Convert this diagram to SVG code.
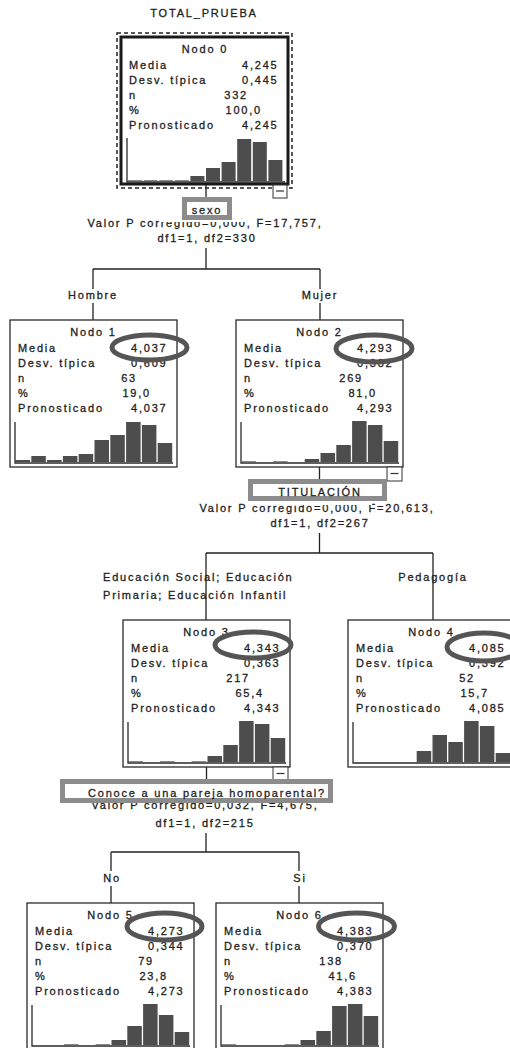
<svg xmlns="http://www.w3.org/2000/svg" width="510" height="1048" viewBox="0 0 510 1048">
<style>
.t{font-family:"Liberation Sans",Arial,sans-serif;font-size:11px;letter-spacing:1.8px;fill:#1e1e1e;stroke:#1e1e1e;stroke-width:0.3}
.m{text-anchor:middle}.e{text-anchor:end}
.box{fill:#fff;stroke:#2a2a2a;stroke-width:1.3}
.ax{fill:none;stroke:#2a2a2a;stroke-width:1.3}
.bar{fill:#4d4d4d}
.tiny{fill:#8a8a8a}
.hl{fill:#fff;stroke:#8c8c8c;stroke-width:5}
.ov{fill:none;stroke:#555;stroke-width:5}
.conn{fill:none;stroke:#222;stroke-width:1.3}
.mb{fill:#fff;stroke:#333;stroke-width:1}
</style>
<rect width="510" height="1048" fill="#fff"/>
<text class="t m" x="204" y="17">TOTAL_PRUEBA</text>

<g id="connectors">
<path class="conn" d="M206 185V200M206 248V269M93 269H320M93 269V289M93 303V320M320 269V289M320 303V320"/>
<path class="conn" d="M319.5 467V482M319.5 533V553M206 553H433M206 553V620M433 553V620"/>
<path class="conn" d="M206.5 767V782M206 833V852M111 852H299M111 852V871M111 886V903M299 852V871M299 886V903"/>
</g>

<g id="node0">
<rect x="117" y="33" width="175" height="155" fill="none" stroke="#222" stroke-width="1.5" stroke-dasharray="4 3"/>
<rect x="121" y="37" width="167" height="147" fill="#fff" stroke="#1a1a1a" stroke-width="3"/>
<text class="t m" x="205" y="53">Nodo 0</text>
<text class="t" x="129" y="69">Media</text><text class="t e" x="278.5" y="69">4,245</text>
<text class="t" x="129" y="84">Desv. típica</text><text class="t e" x="278.5" y="84">0,445</text>
<text class="t" x="129" y="99">n</text><text class="t e" x="248" y="99">332</text>
<text class="t" x="129" y="114">%</text><text class="t e" x="262" y="114">100,0</text>
<text class="t" x="129" y="129">Pronosticado</text><text class="t e" x="278.5" y="129">4,245</text>
<rect class="tiny" x="128" y="180" width="14" height="1"/>
<rect class="tiny" x="143.6" y="180" width="14" height="1"/>
<rect class="tiny" x="159.2" y="180" width="14" height="1"/>
<rect class="tiny" x="174.8" y="180" width="14" height="1"/>
<rect class="bar" x="190.4" y="176" width="14" height="5"/>
<rect class="bar" x="206" y="168" width="14" height="13"/>
<rect class="bar" x="221.6" y="162" width="14" height="19"/>
<rect class="bar" x="237.2" y="139" width="14" height="42"/>
<rect class="bar" x="252.8" y="142" width="14" height="39"/>
<rect class="bar" x="268.4" y="160" width="14" height="21"/>
<path class="ax" d="M127 138V182H285"/>
<rect class="mb" x="273" y="185" width="14" height="13"/><path d="M276 191H284" stroke="#333" stroke-width="1.2"/>
</g>

<g id="node1">
<rect class="box" x="10" y="320" width="167" height="147"/>
<text class="t m" x="93.5" y="336">Nodo 1</text>
<text class="t" x="18" y="352">Media</text><text class="t e" x="167.5" y="352">4,037</text>
<text class="t" x="18" y="367">Desv. típica</text><text class="t e" x="167.5" y="367">0,609</text>
<text class="t" x="18" y="382">n</text><text class="t e" x="137" y="382">63</text>
<text class="t" x="18" y="397">%</text><text class="t e" x="151" y="397">19,0</text>
<text class="t" x="18" y="412">Pronosticado</text><text class="t e" x="167.5" y="412">4,037</text>
<rect class="bar" x="15.5" y="460" width="14.5" height="2"/>
<rect class="bar" x="31.3" y="456" width="14.5" height="6"/>
<rect class="bar" x="47.1" y="460" width="14.5" height="2"/>
<rect class="bar" x="62.9" y="456" width="14.5" height="6"/>
<rect class="bar" x="78.7" y="454" width="14.5" height="8"/>
<rect class="bar" x="94.5" y="440" width="14.5" height="22"/>
<rect class="bar" x="110.3" y="435" width="14.5" height="27"/>
<rect class="bar" x="126.1" y="422" width="14.5" height="40"/>
<rect class="bar" x="141.9" y="425" width="14.5" height="37"/>
<rect class="bar" x="157.7" y="443" width="14.5" height="19"/>
<path class="ax" d="M15 422V463H173"/>
</g>

<g id="node2">
<rect class="box" x="236" y="320" width="167" height="147"/>
<text class="t m" x="319.5" y="336">Nodo 2</text>
<text class="t" x="244" y="352">Media</text><text class="t e" x="393.5" y="352">4,293</text>
<text class="t" x="244" y="367">Desv. típica</text><text class="t e" x="393.5" y="367">0,382</text>
<text class="t" x="244" y="382">n</text><text class="t e" x="363" y="382">269</text>
<text class="t" x="244" y="397">%</text><text class="t e" x="377" y="397">81,0</text>
<text class="t" x="244" y="412">Pronosticado</text><text class="t e" x="393.5" y="412">4,293</text>
<rect class="tiny" x="241.5" y="461" width="14.5" height="1"/>
<rect class="tiny" x="273.1" y="461" width="14.5" height="1"/>
<rect class="bar" x="304.7" y="459" width="14.5" height="3"/>
<rect class="bar" x="320.5" y="453" width="14.5" height="9"/>
<rect class="bar" x="336.3" y="445" width="14.5" height="17"/>
<rect class="bar" x="352.1" y="421" width="14.5" height="41"/>
<rect class="bar" x="367.9" y="425" width="14.5" height="37"/>
<rect class="bar" x="383.7" y="441" width="14.5" height="21"/>
<path class="ax" d="M241 422V463H399"/>
<rect class="mb" x="387" y="467" width="15" height="14"/><path d="M390.5 473.5H398.5" stroke="#333" stroke-width="1.2"/>
</g>

<text class="t m" x="205" y="227">Valor P corregido=0,000, F=17,757,</text>
<text class="t m" x="207" y="242">df1=1, df2=330</text>
<text class="t m" x="93" y="299">Hombre</text>
<text class="t m" x="320" y="299">Mujer</text>

<text class="t m" x="317" y="512">Valor P corregido=0,000, F=20,613,</text>
<text class="t m" x="320" y="527">df1=1, df2=267</text>
<text class="t" x="103" y="581">Educación Social; Educación</text>
<text class="t" x="103" y="599">Primaria; Educación Infantil</text>
<text class="t m" x="433" y="581">Pedagogía</text>

<g id="node3">
<rect class="box" x="123" y="620" width="167" height="147"/>
<text class="t m" x="206.5" y="636">Nodo 3</text>
<text class="t" x="131" y="652">Media</text><text class="t e" x="280.5" y="652">4,343</text>
<text class="t" x="131" y="667">Desv. típica</text><text class="t e" x="280.5" y="667">0,363</text>
<text class="t" x="131" y="682">n</text><text class="t e" x="250" y="682">217</text>
<text class="t" x="131" y="697">%</text><text class="t e" x="264" y="697">65,4</text>
<text class="t" x="131" y="712">Pronosticado</text><text class="t e" x="280.5" y="712">4,343</text>
<rect class="tiny" x="128.5" y="761" width="14.5" height="1"/>
<rect class="tiny" x="160.1" y="761" width="14.5" height="1"/>
<rect class="tiny" x="191.7" y="761" width="14.5" height="1"/>
<rect class="bar" x="207.5" y="756" width="14.5" height="6"/>
<rect class="bar" x="223.3" y="745" width="14.5" height="17"/>
<rect class="bar" x="239.1" y="721" width="14.5" height="41"/>
<rect class="bar" x="254.9" y="724" width="14.5" height="38"/>
<rect class="bar" x="270.7" y="738" width="14.5" height="24"/>
<path class="ax" d="M128 722V763H286"/>
<rect class="mb" x="273" y="767" width="15" height="14"/><path d="M276.5 773.5H284.5" stroke="#333" stroke-width="1.2"/>
</g>

<g id="node4">
<rect class="box" x="348" y="620" width="167" height="147"/>
<text class="t m" x="431.5" y="636">Nodo 4</text>
<text class="t" x="356" y="652">Media</text><text class="t e" x="505.5" y="652">4,085</text>
<text class="t" x="356" y="667">Desv. típica</text><text class="t e" x="505.5" y="667">0,392</text>
<text class="t" x="356" y="682">n</text><text class="t e" x="475" y="682">52</text>
<text class="t" x="356" y="697">%</text><text class="t e" x="489" y="697">15,7</text>
<text class="t" x="356" y="712">Pronosticado</text><text class="t e" x="505.5" y="712">4,085</text>
<rect class="bar" x="416.7" y="751" width="14.5" height="11"/>
<rect class="bar" x="432.5" y="735" width="14.5" height="27"/>
<rect class="bar" x="448.3" y="742" width="14.5" height="20"/>
<rect class="bar" x="464.1" y="721" width="14.5" height="41"/>
<rect class="bar" x="479.9" y="726" width="14.5" height="36"/>
<rect class="bar" x="495.7" y="753" width="14.5" height="9"/>
<path class="ax" d="M353 722V763H511"/>
</g>

<text class="t m" x="205" y="809">Valor P corregido=0,032, F=4,675,</text>
<text class="t m" x="205" y="827">df1=1, df2=215</text>
<text class="t m" x="112" y="882">No</text>
<text class="t m" x="300" y="882">Si</text>

<g id="node5">
<rect class="box" x="27" y="903" width="167" height="147"/>
<text class="t m" x="110.5" y="919">Nodo 5</text>
<text class="t" x="35" y="935">Media</text><text class="t e" x="184.5" y="935">4,273</text>
<text class="t" x="35" y="950">Desv. típica</text><text class="t e" x="184.5" y="950">0,344</text>
<text class="t" x="35" y="965">n</text><text class="t e" x="154" y="965">79</text>
<text class="t" x="35" y="980">%</text><text class="t e" x="168" y="980">23,8</text>
<text class="t" x="35" y="995">Pronosticado</text><text class="t e" x="184.5" y="995">4,273</text>
<rect class="tiny" x="64.1" y="1044" width="14.5" height="1"/>
<rect class="tiny" x="95.7" y="1044" width="14.5" height="1"/>
<rect class="bar" x="111.5" y="1040" width="14.5" height="5"/>
<rect class="bar" x="127.3" y="1026" width="14.5" height="19"/>
<rect class="bar" x="143.1" y="1004" width="14.5" height="41"/>
<rect class="bar" x="158.9" y="1015" width="14.5" height="30"/>
<rect class="bar" x="174.7" y="1032" width="14.5" height="13"/>
<path class="ax" d="M32 1005V1046H190"/>
</g>

<g id="node6">
<rect class="box" x="216" y="903" width="167" height="147"/>
<text class="t m" x="299.5" y="919">Nodo 6</text>
<text class="t" x="224" y="935">Media</text><text class="t e" x="373.5" y="935">4,383</text>
<text class="t" x="224" y="950">Desv. típica</text><text class="t e" x="373.5" y="950">0,370</text>
<text class="t" x="224" y="965">n</text><text class="t e" x="343" y="965">138</text>
<text class="t" x="224" y="980">%</text><text class="t e" x="357" y="980">41,6</text>
<text class="t" x="224" y="995">Pronosticado</text><text class="t e" x="373.5" y="995">4,383</text>
<rect class="tiny" x="221.5" y="1044" width="14.5" height="1"/>
<rect class="tiny" x="284.7" y="1044" width="14.5" height="1"/>
<rect class="bar" x="300.5" y="1040" width="14.5" height="5"/>
<rect class="bar" x="316.3" y="1031" width="14.5" height="14"/>
<rect class="bar" x="332.1" y="1006" width="14.5" height="39"/>
<rect class="bar" x="347.9" y="1004" width="14.5" height="41"/>
<rect class="bar" x="363.7" y="1016" width="14.5" height="29"/>
<path class="ax" d="M221 1005V1046H379"/>
</g>

<g id="annotations">
<rect fill="#fff" x="160" y="219" width="90" height="3"/>
<rect fill="#fff" x="252" y="500" width="120" height="5"/>
<rect class="hl" x="184.5" y="199.5" width="45" height="18"/>
<text class="t m" x="207" y="214">sexo</text>
<rect class="hl" x="250.5" y="481.5" width="134" height="17"/>
<text class="t m" x="320" y="496">TITULACIÓN</text>
<rect class="hl" x="62.5" y="781.5" width="268" height="19"/>
<text class="t m" x="207" y="797">Conoce a una pareja homoparental?</text>
<ellipse class="ov" cx="149.5" cy="347.5" rx="37.5" ry="12.5"/>
<ellipse class="ov" cx="374" cy="348.5" rx="38" ry="13.5"/>
<ellipse class="ov" cx="253" cy="645" rx="38" ry="13"/>
<ellipse class="ov" cx="484" cy="647" rx="37" ry="14"/>
<ellipse class="ov" cx="164.5" cy="926.5" rx="37.5" ry="13.5"/>
<ellipse class="ov" cx="356.5" cy="926.5" rx="38" ry="13.5"/>
</g>
</svg>
